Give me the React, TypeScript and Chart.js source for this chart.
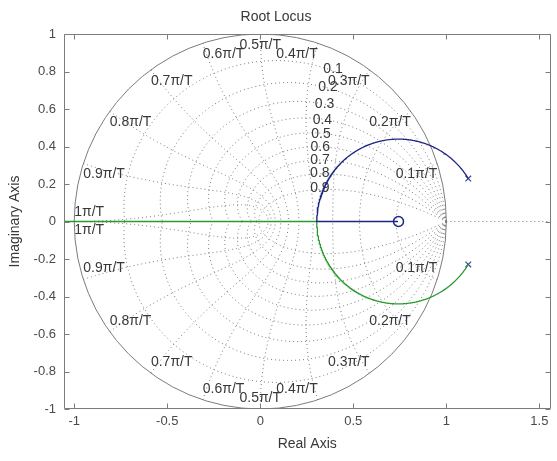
import React, { useEffect, useRef } from "react";
import { Chart, registerables } from "chart.js";

Chart.register(...registerables);

// Open-loop system: one complex pole pair and one real zero
const poleRe = [1.118, 1.118];
const poleIm = [0.229, -0.229];
const zeroRe = [0.743];
const zeroIm = [0];

// Axis limits and ticks
const xLimits = [-1.055, 1.56];
const yLimits = [-1, 1];
const xTicks = [-1, -0.5, 0, 0.5, 1, 1.5];
const yTicks = [-1, -0.8, -0.6, -0.4, -0.2, 0, 0.2, 0.4, 0.6, 0.8, 1];

// z-plane grid: damping ratios and natural frequencies (in units of pi/T)
const zetaValues = [0.1, 0.2, 0.3, 0.4, 0.5, 0.6, 0.7, 0.8, 0.9];
const wnValues = [0.1, 0.2, 0.3, 0.4, 0.5, 0.6, 0.7, 0.8, 0.9, 1];
const wnLabels = ["0.1π/T", "0.2π/T", "0.3π/T", "0.4π/T", "0.5π/T", "0.6π/T", "0.7π/T", "0.8π/T", "0.9π/T", "1π/T"];
// damping labels sit next to this natural-frequency curve
const zetaLabelWn = 0.4;

const BLUE = "#1e2682";
const GREEN = "#2b9b2f";
const MARK = "#3b4a8e";
const GRID = "#7a7a7a";
const FRAME = "#7c7c7c";
const TEXT = "#383838";
const TICK_TEXT = "#4a4a4a";
const FONT = '"Liberation Sans", Arial, Helvetica, sans-serif';

type Pt = { x: number; y: number };

// Closed-loop roots of (z - p)(z - conj p) + K (z - z0) = 0 over a sweep of gain K
function computeBranches() {
  const a = poleRe[0];
  const b = Math.abs(poleIm[0]);
  const z0 = zeroRe[0];
  const c0base = a * a + b * b;
  // gain where the complex pair meets the real axis
  const kBreak = 2 * (a - z0) + 2 * Math.sqrt((a - z0) * (a - z0) + b * b);
  const upper: Pt[] = [];
  const lower: Pt[] = [];
  const n = 300;
  for (let i = 0; i <= n; i++) {
    const t = i / n;
    const K = kBreak * (1 - (1 - t) * (1 - t));
    const c1 = K - 2 * a;
    const c0 = c0base - K * z0;
    const D = c1 * c1 - 4 * c0;
    const im = D < 0 ? Math.sqrt(-D) / 2 : 0;
    upper.push({ x: -c1 / 2, y: im });
    lower.push({ x: -c1 / 2, y: -im });
  }
  let leftDone = false;
  for (let i = 1; i <= 600; i++) {
    const u = i / 6;
    const K = kBreak + u * u;
    const c1 = K - 2 * a;
    const c0 = c0base - K * z0;
    const D = Math.max(c1 * c1 - 4 * c0, 0);
    const s = Math.sqrt(D) / 2;
    upper.push({ x: -c1 / 2 + s, y: 0 });
    if (!leftDone) {
      lower.push({ x: -c1 / 2 - s, y: 0 });
      if (-c1 / 2 - s < -3) leftDone = true;
    }
  }
  return { upper, lower };
}

const zPlanePlugin = {
  id: "zPlaneGrid",
  beforeDatasetsDraw(chart: any) {
    const { ctx, chartArea: ca, scales } = chart;
    const xs = scales.x;
    const ys = scales.y;
    const X = (v: number) => xs.getPixelForValue(v);
    const Y = (v: number) => ys.getPixelForValue(v);

    ctx.save();
    ctx.beginPath();
    ctx.rect(ca.left, ca.top, ca.right - ca.left, ca.bottom - ca.top);
    ctx.clip();

    ctx.lineWidth = 1;
    ctx.strokeStyle = GRID;
    ctx.setLineDash([1, 3]);

    // constant damping spirals
    for (const zeta of zetaValues) {
      const m = zeta / Math.sqrt(1 - zeta * zeta);
      for (const sgn of [1, -1]) {
        ctx.beginPath();
        for (let i = 0; i <= 160; i++) {
          const th = (Math.PI * i) / 160;
          const r = Math.exp(-m * th);
          const px = X(r * Math.cos(th));
          const py = Y(sgn * r * Math.sin(th));
          if (i === 0) ctx.moveTo(px, py);
          else ctx.lineTo(px, py);
        }
        ctx.stroke();
      }
    }

    // constant natural-frequency curves
    for (const wn of wnValues) {
      const w = wn * Math.PI;
      for (const sgn of [1, -1]) {
        ctx.beginPath();
        for (let i = 0; i <= 120; i++) {
          const zeta = i / 120;
          const r = Math.exp(-zeta * w);
          const ang = w * Math.sqrt(1 - zeta * zeta);
          const px = X(r * Math.cos(ang));
          const py = Y(sgn * r * Math.sin(ang));
          if (i === 0) ctx.moveTo(px, py);
          else ctx.lineTo(px, py);
        }
        ctx.stroke();
      }
    }

    // real axis, right of the unit circle
    const y0 = Y(0);
    ctx.beginPath();
    ctx.moveTo(X(1), y0);
    ctx.lineTo(ca.right, y0);
    ctx.stroke();

    // unit circle
    ctx.setLineDash([]);
    ctx.strokeStyle = FRAME;
    ctx.beginPath();
    ctx.ellipse(X(0), Y(0), X(1) - X(0), Y(0) - Y(1), 0, 0, Math.PI * 2);
    ctx.stroke();
    ctx.restore();

    // natural-frequency labels just inside the circle
    ctx.save();
    ctx.fillStyle = TEXT;
    ctx.font = `14px ${FONT}`;
    wnValues.forEach((wn, i) => {
      const th = wn * Math.PI;
      const c = Math.cos(th);
      const s = Math.sin(th);
      for (const sgn of [1, -1]) {
        const px = X(c);
        const py = Y(sgn * s);
        ctx.textAlign = Math.abs(c) < 1e-6 ? "center" : c > 0 ? "right" : "left";
        const onAxis = Math.abs(s) < 1e-6;
        let base: string;
        if (onAxis) base = sgn > 0 ? "bottom" : "top";
        else base = sgn > 0 ? "top" : "bottom";
        ctx.textBaseline = base;
        const gap = onAxis ? 2 : 4;
        ctx.fillText(wnLabels[i], px, py + (base === "top" ? gap : -gap));
      }
    });

    // damping labels beside their spirals
    ctx.textAlign = "left";
    ctx.textBaseline = "middle";
    const w = zetaLabelWn * Math.PI;
    for (const zeta of zetaValues) {
      const r = Math.exp(-zeta * w);
      const ang = w * Math.sqrt(1 - zeta * zeta);
      const dx = 13 - 16 * zeta;
      const dy = 5 - 8 * zeta;
      ctx.fillText(String(zeta), X(r * Math.cos(ang)) + dx, Y(r * Math.sin(ang)) + dy);
    }
    ctx.restore();
  },
  afterDraw(chart: any) {
    const { ctx, chartArea: ca, scales } = chart;
    const xs = scales.x;
    const ys = scales.y;
    const L = Math.round(ca.left) + 0.5;
    const R = Math.round(ca.right) - 0.5;
    const T = Math.round(ca.top) + 0.5;
    const B = Math.round(ca.bottom) - 0.5;
    const len = 5;
    ctx.save();
    ctx.strokeStyle = FRAME;
    ctx.lineWidth = 1;
    ctx.beginPath();
    ctx.rect(L, T, R - L, B - T);
    for (const v of xTicks) {
      const px = Math.round(xs.getPixelForValue(v)) + 0.5;
      ctx.moveTo(px, B);
      ctx.lineTo(px, B - len);
      ctx.moveTo(px, T);
      ctx.lineTo(px, T + len);
    }
    for (const v of yTicks) {
      const py = Math.round(ys.getPixelForValue(v)) + 0.5;
      ctx.moveTo(L, py);
      ctx.lineTo(L + len, py);
      ctx.moveTo(R, py);
      ctx.lineTo(R - len, py);
    }
    ctx.stroke();
    ctx.restore();
  },
};

export default function App() {
  const canvasRef = useRef<HTMLCanvasElement | null>(null);

  useEffect(() => {
    const canvas = canvasRef.current;
    if (!canvas) return;
    const { upper, lower } = computeBranches();
    const poles = poleRe.map((re, i) => ({ x: re, y: poleIm[i] }));
    const zeros = zeroRe.map((re, i) => ({ x: re, y: zeroIm[i] }));

    const chart = new Chart(canvas, {
      type: "scatter",
      data: {
        datasets: [
          {
            data: upper,
            showLine: true,
            borderColor: BLUE,
            backgroundColor: BLUE,
            borderWidth: 1.3,
            pointRadius: 0,
            fill: false,
          },
          {
            data: lower,
            showLine: true,
            borderColor: GREEN,
            backgroundColor: GREEN,
            borderWidth: 1.3,
            pointRadius: 0,
            fill: false,
          },
          {
            data: poles,
            showLine: false,
            pointStyle: "crossRot",
            pointRadius: 4,
            borderColor: MARK,
            borderWidth: 1.2,
          },
          {
            data: zeros,
            showLine: false,
            pointStyle: "circle",
            pointRadius: 5,
            borderColor: BLUE,
            backgroundColor: "rgba(0,0,0,0)",
            borderWidth: 1.5,
          },
        ],
      },
      options: {
        animation: false,
        responsive: false,
        devicePixelRatio: 1,
        events: [],
        layout: { padding: { left: 0, right: 5, top: 0, bottom: 0 } },
        plugins: {
          legend: { display: false },
          tooltip: { enabled: false },
          title: {
            display: true,
            text: "Root Locus",
            color: TEXT,
            font: { family: FONT, size: 14, weight: "normal" },
            padding: { top: 9, bottom: 8.2 },
          },
        },
        scales: {
          x: {
            type: "linear",
            position: "bottom",
            min: xLimits[0],
            max: xLimits[1],
            afterBuildTicks: (s: any) => {
              s.ticks = xTicks.map((v) => ({ value: v }));
            },
            afterFit: (s: any) => {
              s.height = 52;
            },
            ticks: {
              autoSkip: false,
              maxRotation: 0,
              padding: 5,
              color: TICK_TEXT,
              font: { family: FONT, size: 13 },
              callback: (v: any) => String(v),
            },
            grid: { display: false, drawTicks: false, tickLength: 0 },
            border: { display: false },
            title: {
              display: true,
              text: "Real Axis",
              color: TEXT,
              font: { family: FONT, size: 14 },
              padding: { top: 0, bottom: 8.6 },
            },
          },
          y: {
            type: "linear",
            position: "left",
            min: yLimits[0],
            max: yLimits[1],
            afterBuildTicks: (s: any) => {
              s.ticks = yTicks.map((v) => ({ value: v }));
            },
            afterFit: (s: any) => {
              s.width = 64;
            },
            ticks: {
              autoSkip: false,
              padding: 8,
              color: TICK_TEXT,
              font: { family: FONT, size: 13 },
              callback: (v: any) => String(v),
            },
            grid: { display: false, drawTicks: false, tickLength: 0 },
            border: { display: false },
            title: {
              display: true,
              text: "Imaginary Axis",
              color: TEXT,
              font: { family: FONT, size: 14 },
              padding: { top: 6.6, bottom: 0 },
            },
          },
        },
      },
      plugins: [zPlanePlugin],
    });

    return () => chart.destroy();
  }, []);

  return (
    <div style={{ position: "fixed", left: 0, top: 0, width: 557, height: 461, background: "#fff" }}>
      <canvas ref={canvasRef} width={557} height={461} style={{ display: "block", width: 557, height: 461 }} />
    </div>
  );
}
